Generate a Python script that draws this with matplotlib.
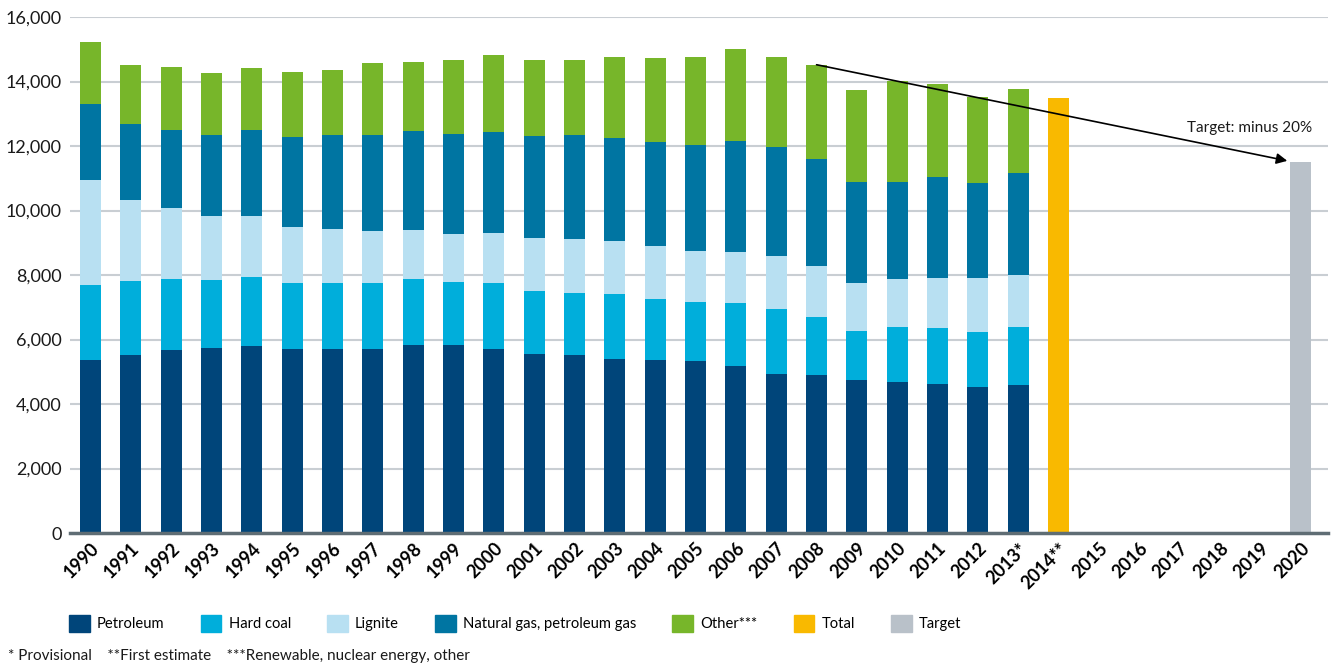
import matplotlib
matplotlib.use("Agg")
import matplotlib.pyplot as plt
import numpy as np
from matplotlib.patches import Patch

plt.rcParams["font.family"] = ["Lato", "DejaVu Sans"]

# values in the chart
years = [str(y) for y in range(1990, 2021)]
tick_labels = years.copy()
tick_labels[years.index("2013")] = "2013*"
tick_labels[years.index("2014")] = "2014**"

stack_years = list(range(1990, 2014))
petroleum = [5360, 5520, 5670, 5740, 5800, 5710, 5710, 5710, 5830, 5830, 5710, 5550,
             5520, 5400, 5360, 5330, 5180, 4930, 4900, 4740, 4680, 4620, 4530, 4590]
hard_coal = [2330, 2300, 2200, 2110, 2140, 2050, 2050, 2050, 2050, 1950, 2050, 1950,
             1920, 2020, 1890, 1830, 1950, 2020, 1800, 1520, 1710, 1740, 1710, 1800]
lignite = [3260, 2510, 2200, 1980, 1890, 1740, 1670, 1610, 1520, 1490, 1550, 1640,
           1670, 1640, 1640, 1580, 1580, 1640, 1580, 1490, 1490, 1550, 1670, 1610]
natural_gas = [2360, 2360, 2420, 2510, 2670, 2790, 2920, 2980, 3070, 3100, 3130, 3160,
               3230, 3190, 3230, 3290, 3440, 3380, 3320, 3130, 3010, 3130, 2950, 3160]
other = [1920, 1830, 1950, 1920, 1920, 1990, 2020, 2230, 2140, 2300, 2390, 2360,
         2330, 2510, 2600, 2730, 2850, 2790, 2920, 2850, 3130, 2880, 2670, 2600]
total_year, total_value = 2014, 13490
target_year, target_value = 2020, 11500

series = [
    ("Petroleum", petroleum, "#00457a"),
    ("Hard coal", hard_coal, "#00aedb"),
    ("Lignite", lignite, "#b8e0f2"),
    ("Natural gas, petroleum gas", natural_gas, "#0075a2"),
    ("Other***", other, "#77b62a"),
]
total_color = "#f9b900"
target_color = "#b9c1c9"

fig = plt.figure(figsize=(13.35, 6.68), dpi=100)
ax = fig.add_axes([70 / 1335, 135 / 668, 1258 / 1335, 516 / 668])

width = 0.52
x_stack = np.array([years.index(str(y)) for y in stack_years])
bottom = np.zeros(len(stack_years))
for name, vals, color in series:
    vals = np.array(vals, dtype=float)
    ax.bar(x_stack, vals, width, bottom=bottom, color=color, zorder=3, linewidth=0)
    bottom += vals

x_total = years.index(str(total_year))
x_target = years.index(str(target_year))
ax.bar(x_total, total_value, width, color=total_color, zorder=3, linewidth=0)
ax.bar(x_target, target_value, width, color=target_color, zorder=3, linewidth=0)

# arrow from 2008 total down to the target
x_2008 = years.index("2008")
ax.annotate("", xy=(x_target - 0.33, target_value + 40), xytext=(x_2008, bottom[x_2008]),
            arrowprops=dict(arrowstyle="-|>", color="black", lw=1.2,
                            mutation_scale=16, shrinkA=0, shrinkB=0),
            zorder=5)
ax.text(x_target + 0.28, 12560, "Target: minus 20%", ha="right", va="center",
        fontsize=11, color="#1a1a1a", zorder=5)

ax.set_xlim(-0.51, 30.68)
ax.set_ylim(0, 16000)
ax.set_yticks(np.arange(0, 16001, 2000))
ax.set_yticklabels([f"{v:,}" for v in range(0, 16001, 2000)], fontsize=13, color="#1a1a1a")
ax.set_xticks(range(len(years)))
ax.set_xticklabels(tick_labels, rotation=45, ha="right", rotation_mode="anchor",
                   fontsize=13, fontweight="bold", color="black")
ax.tick_params(axis="both", length=0)
ax.tick_params(axis="y", pad=6)
ax.tick_params(axis="x", pad=5)

ax.grid(axis="y", color="#c9ced3", lw=1.5, zorder=0)
for side in ["left", "right", "top"]:
    ax.spines[side].set_visible(False)
ax.spines["bottom"].set_color("#5f6d74")
ax.spines["bottom"].set_linewidth(2.5)
ax.spines["bottom"].set_zorder(4)

handles = [Patch(color=c, label=n) for n, _, c in series]
handles += [Patch(color=total_color, label="Total"), Patch(color=target_color, label="Target")]
fig.legend(handles=handles, loc="center left", bbox_to_anchor=(69 / 1335, 44.5 / 668),
           ncol=7, frameon=False, fontsize=10.6, borderpad=0, borderaxespad=0,
           handlelength=1.4, handleheight=1.4, handletextpad=0.5, columnspacing=2.45)

fig.text(8 / 1335, 12 / 668,
         "* Provisional    **First estimate    ***Renewable, nuclear energy, other",
         fontsize=11, color="#1a1a1a", ha="left", va="center")

fig.savefig("out.png", dpi=100)
